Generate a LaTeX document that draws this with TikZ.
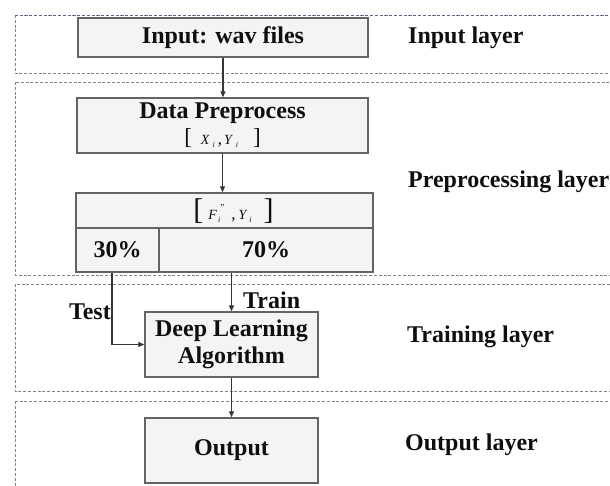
\documentclass[tikz,border=0pt]{standalone}
\usepackage{fontspec}
\setmainfont{Liberation Serif}
\usetikzlibrary{arrows.meta}
\definecolor{laycol}{RGB}{125,128,165}
\definecolor{laytop}{RGB}{90,95,160}
\definecolor{boxdraw}{RGB}{100,100,100}
\definecolor{boxfill}{RGB}{244,244,244}
\definecolor{linecol}{RGB}{55,55,55}
\definecolor{txtcol}{RGB}{15,15,15}
\newcommand\bigtxt{\fontsize{24}{27}\selectfont\bfseries}
\newcommand\smallit[1]{{\fontsize{14}{14}\selectfont\itshape\mdseries #1}}
\newcommand\subi{\raisebox{-3pt}{\fontsize{8}{8}\selectfont\itshape\mdseries i}}
\newcommand\cma{{\fontsize{17}{17}\selectfont\mdseries ,}}
\newcommand\dpform{\relax{\mdseries\fontsize{23}{23}\selectfont[}\hspace{9pt}\smallit{X}\hspace{3pt}\subi\hspace{3pt}\cma\hspace{2pt}\smallit{Y}\hspace{4pt}\subi\hspace{15pt}{\mdseries\fontsize{23}{23}\selectfont]}}
\newcommand\fform{\relax{\mdseries\fontsize{30}{30}\selectfont[}\hspace{5pt}\smallit{F}\hspace{1pt}\subi\raisebox{9pt}{\fontsize{9}{9}\selectfont\mdseries ''}\hspace{7pt}\cma\hspace{3pt}\smallit{Y}\hspace{3pt}\subi\hspace{12pt}{\mdseries\fontsize{30}{30}\selectfont]}}
\begin{document}
\begin{tikzpicture}[x=1pt,y=-1pt,
  layer/.style={draw=laycol, line width=1pt, dash pattern=on 3pt off 1.8pt},
  box/.style={draw=boxdraw, fill=boxfill, line width=1.4pt, inner sep=0pt, text=txtcol, font=\bigtxt, align=center},
  lbl/.style={inner sep=0pt, text=txtcol, font=\bigtxt},
  conn/.style={draw=linecol, line width=1.1pt},
  arr/.style={conn, -{Triangle[length=6pt,width=5pt]}}]
\useasboundingbox (0,0) rectangle (610,485);
\clip (0,0) rectangle (610,485);
% layers
\draw[layer] (15,15) rectangle (640,73);
\draw[draw=laytop, line width=1pt, dash pattern=on 3pt off 1.8pt] (15,15) -- (640,15);
\draw[layer] (15,82) rectangle (640,275);
\draw[layer] (15,284) rectangle (640,391);
\draw[layer] (15,401) rectangle (640,495);
% boxes
\node[box, minimum width=290, minimum height=39] (in) at (223,37.5) {Input: wav files};
\node[box, minimum width=291, minimum height=55] (dp) at (222.5,125.5) {Data Preprocess\\[-1pt]\dpform};
\node[box, minimum width=297, minimum height=35] (ftop) at (224.5,210.5) {};
\node[lbl] (fform) at (233.5,211) {\fform};
\node[box, minimum width=83, minimum height=44] (p30) at (117.5,250) {30\%};
\node[box, minimum width=214, minimum height=44] (p70) at (266,250) {70\%};
\node[box, minimum width=173, minimum height=65] (dl) at (231.5,344.5) {Deep Learning\\Algorithm};
\node[box, minimum width=173, minimum height=65] (out) at (231.5,450.5) {Output};
% layer labels
\node[lbl, anchor=west] (l1) at (408,38) {Input layer};
\node[lbl, anchor=west] (l2) at (408,182) {Preprocessing layer};
\node[lbl, anchor=west] (l3) at (407,337) {Training layer};
\node[lbl, anchor=west] (l4) at (405,445) {Output layer};
% connectors
\draw[arr] (in.south) -- (in.south |- dp.north);
\draw[arr] (dp.south) -- (dp.south |- ftop.north);
\draw[arr] ([xshift=-5.5pt]p30.south) |- (dl.west);
\draw[arr] (p70.south -| dl.north) -- (dl.north);
\draw[arr] (dl.south) -- (out.north);
\node[lbl, anchor=east] (test) at (111,312) {Test};
\node[lbl, anchor=west] (train) at (243,300) {Train};
\end{tikzpicture}
\end{document}
